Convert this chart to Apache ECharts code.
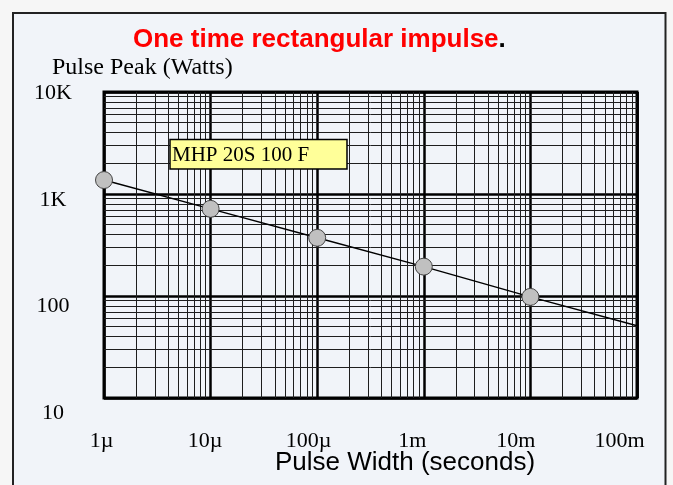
<!DOCTYPE html>
<html>
<head>
<meta charset="utf-8">
<script src="https://cdn.jsdelivr.net/npm/echarts@6/dist/echarts.min.js"></script>
<style>
  html, body { margin: 0; padding: 0; background: #f6f6f6; }
  #chart { width: 673px; height: 485px; }
</style>
</head>
<body>
<div id="chart"></div>
<script>
// ---- data ----
const pulseWidths = [1e-6, 1e-5, 1e-4, 1e-3, 1e-2, 1e-1];      // seconds
const peakWatts   = [1370, 715, 372, 194, 98, 51];              // watts
const markerShown = [true, true, true, true, true, false];
const seriesName  = 'MHP 20S 100 F';
const xTickLabels = ['1\u00b5', '10\u00b5', '100\u00b5', '1m', '10m', '100m'];
const yTickLabels = ['10', '100', '1K', '10K'];
const minorMultipliers = [2, 3, 4, 5, 6, 7, 8, 9];
const xMin = 1e-6, xMax = 1e-1, yMin = 10, yMax = 10000;
const titleText = 'One time rectangular impulse';
const yAxisTitle = 'Pulse Peak (Watts)';
const xAxisTitle = 'Pulse Width (seconds)';

// ---- minor log grid lines ----
function minorValues(lo, hi) {
  const out = [];
  const k0 = Math.round(Math.log10(lo)), k1 = Math.round(Math.log10(hi));
  for (let k = k0; k < k1; k++) {
    const d = Math.pow(10, k);
    minorMultipliers.forEach(m => out.push(+(m * d).toPrecision(6)));
  }
  return out;
}
const minorLines = []
  .concat(minorValues(xMin, xMax).map(v => ({ coords: [[v, yMin], [v, yMax]] })))
  .concat(minorValues(yMin, yMax).map(v => ({ coords: [[xMin, v], [xMax, v]] })));

const serif = '"Liberation Serif", "Times New Roman", serif';
const sans = '"Liberation Sans", Arial, sans-serif';

const chart = echarts.init(document.getElementById('chart'), null, { renderer: 'canvas' });

const plotAxisX = {
  type: 'log', logBase: 10, min: xMin, max: xMax, splitNumber: 5,
  axisLine: { show: false }, axisTick: { show: false }, axisLabel: { show: false },
  splitLine: { show: true, lineStyle: { color: '#000', width: 2.5 } }
};
const plotAxisY = {
  type: 'log', logBase: 10, min: yMin, max: yMax, splitNumber: 3,
  axisLine: { show: false }, axisTick: { show: false }, axisLabel: { show: false },
  splitLine: { show: true, lineStyle: { color: '#000', width: 2.5 } }
};

chart.setOption({
  backgroundColor: '#f6f6f6',
  animation: false,
  title: {
    left: 133, top: 27, padding: 0,
    text: '{r|' + titleText + '}{k|.}',
    textStyle: {
      rich: {
        r: { fontFamily: sans, fontWeight: 'bold', fontSize: 26, color: '#ff0000' },
        k: { fontFamily: sans, fontWeight: 'bold', fontSize: 26, color: '#000' }
      }
    }
  },
  graphic: [
    { type: 'rect', z: -10, shape: { x: 13, y: 13, width: 652.5, height: 500 },
      style: { fill: '#f1f4f9', stroke: '#222', lineWidth: 2 } },
    { type: 'text', x: 52, y: 68, z: 10,
      style: { text: yAxisTitle, font: '24px ' + serif, fill: '#000', verticalAlign: 'middle' } },
    { type: 'text', x: 405, y: 463, z: 10,
      style: { text: xAxisTitle, font: '26px ' + sans, fill: '#000', align: 'center', verticalAlign: 'middle' } },
    { type: 'rect', z: 10, shape: { x: 170, y: 139.5, width: 177, height: 29.5 },
      style: { fill: '#ffff99', stroke: '#000', lineWidth: 1.5 } },
    { type: 'text', x: 172, y: 155, z: 11,
      style: { text: seriesName, font: '21px ' + serif, fill: '#000', verticalAlign: 'middle' } }
  ],
  grid: [
    { left: 104, top: 92, right: 36, bottom: 87, show: true,
      backgroundColor: 'transparent', borderColor: '#000', borderWidth: 3 },
    { left: 101.5, top: 93.3, right: 53.5, bottom: 71.8, show: false }
  ],
  xAxis: [
    Object.assign({ gridIndex: 0 }, plotAxisX),
    { gridIndex: 1, type: 'log', logBase: 10, min: xMin, max: xMax, splitNumber: 5,
      axisLine: { show: false }, axisTick: { show: false }, splitLine: { show: false },
      axisLabel: { show: true, margin: 17, fontFamily: serif, fontSize: 22, color: '#000',
        formatter: v => xTickLabels[Math.round(Math.log10(v)) - Math.round(Math.log10(xMin))] } }
  ],
  yAxis: [
    Object.assign({ gridIndex: 0 }, plotAxisY),
    { gridIndex: 1, type: 'log', logBase: 10, min: yMin, max: yMax, splitNumber: 3,
      axisLine: { show: false }, axisTick: { show: false }, splitLine: { show: false },
      axisLabel: { show: true, margin: 48.5, align: 'center', fontFamily: serif, fontSize: 22, color: '#000',
        formatter: v => yTickLabels[Math.round(Math.log10(v)) - Math.round(Math.log10(yMin))] } }
  ],
  series: [
    {
      type: 'lines', name: 'minor-grid', coordinateSystem: 'cartesian2d',
      xAxisIndex: 0, yAxisIndex: 0, z: 1, silent: true,
      lineStyle: { color: '#1e1e1e', width: 1, opacity: 1, type: 'solid' },
      emphasis: { disabled: true },
      data: minorLines
    },
    {
      type: 'line', name: seriesName, xAxisIndex: 0, yAxisIndex: 0, z: 5,
      data: pulseWidths.map((x, i) => ({ value: [x, peakWatts[i]], symbol: markerShown[i] ? 'circle' : 'none' })),
      symbolSize: 17,
      lineStyle: { color: '#000', width: 1.5 },
      itemStyle: { color: '#c0c0c0', borderColor: '#444', borderWidth: 1 }
    }
  ]
});
</script>
</body>
</html>
